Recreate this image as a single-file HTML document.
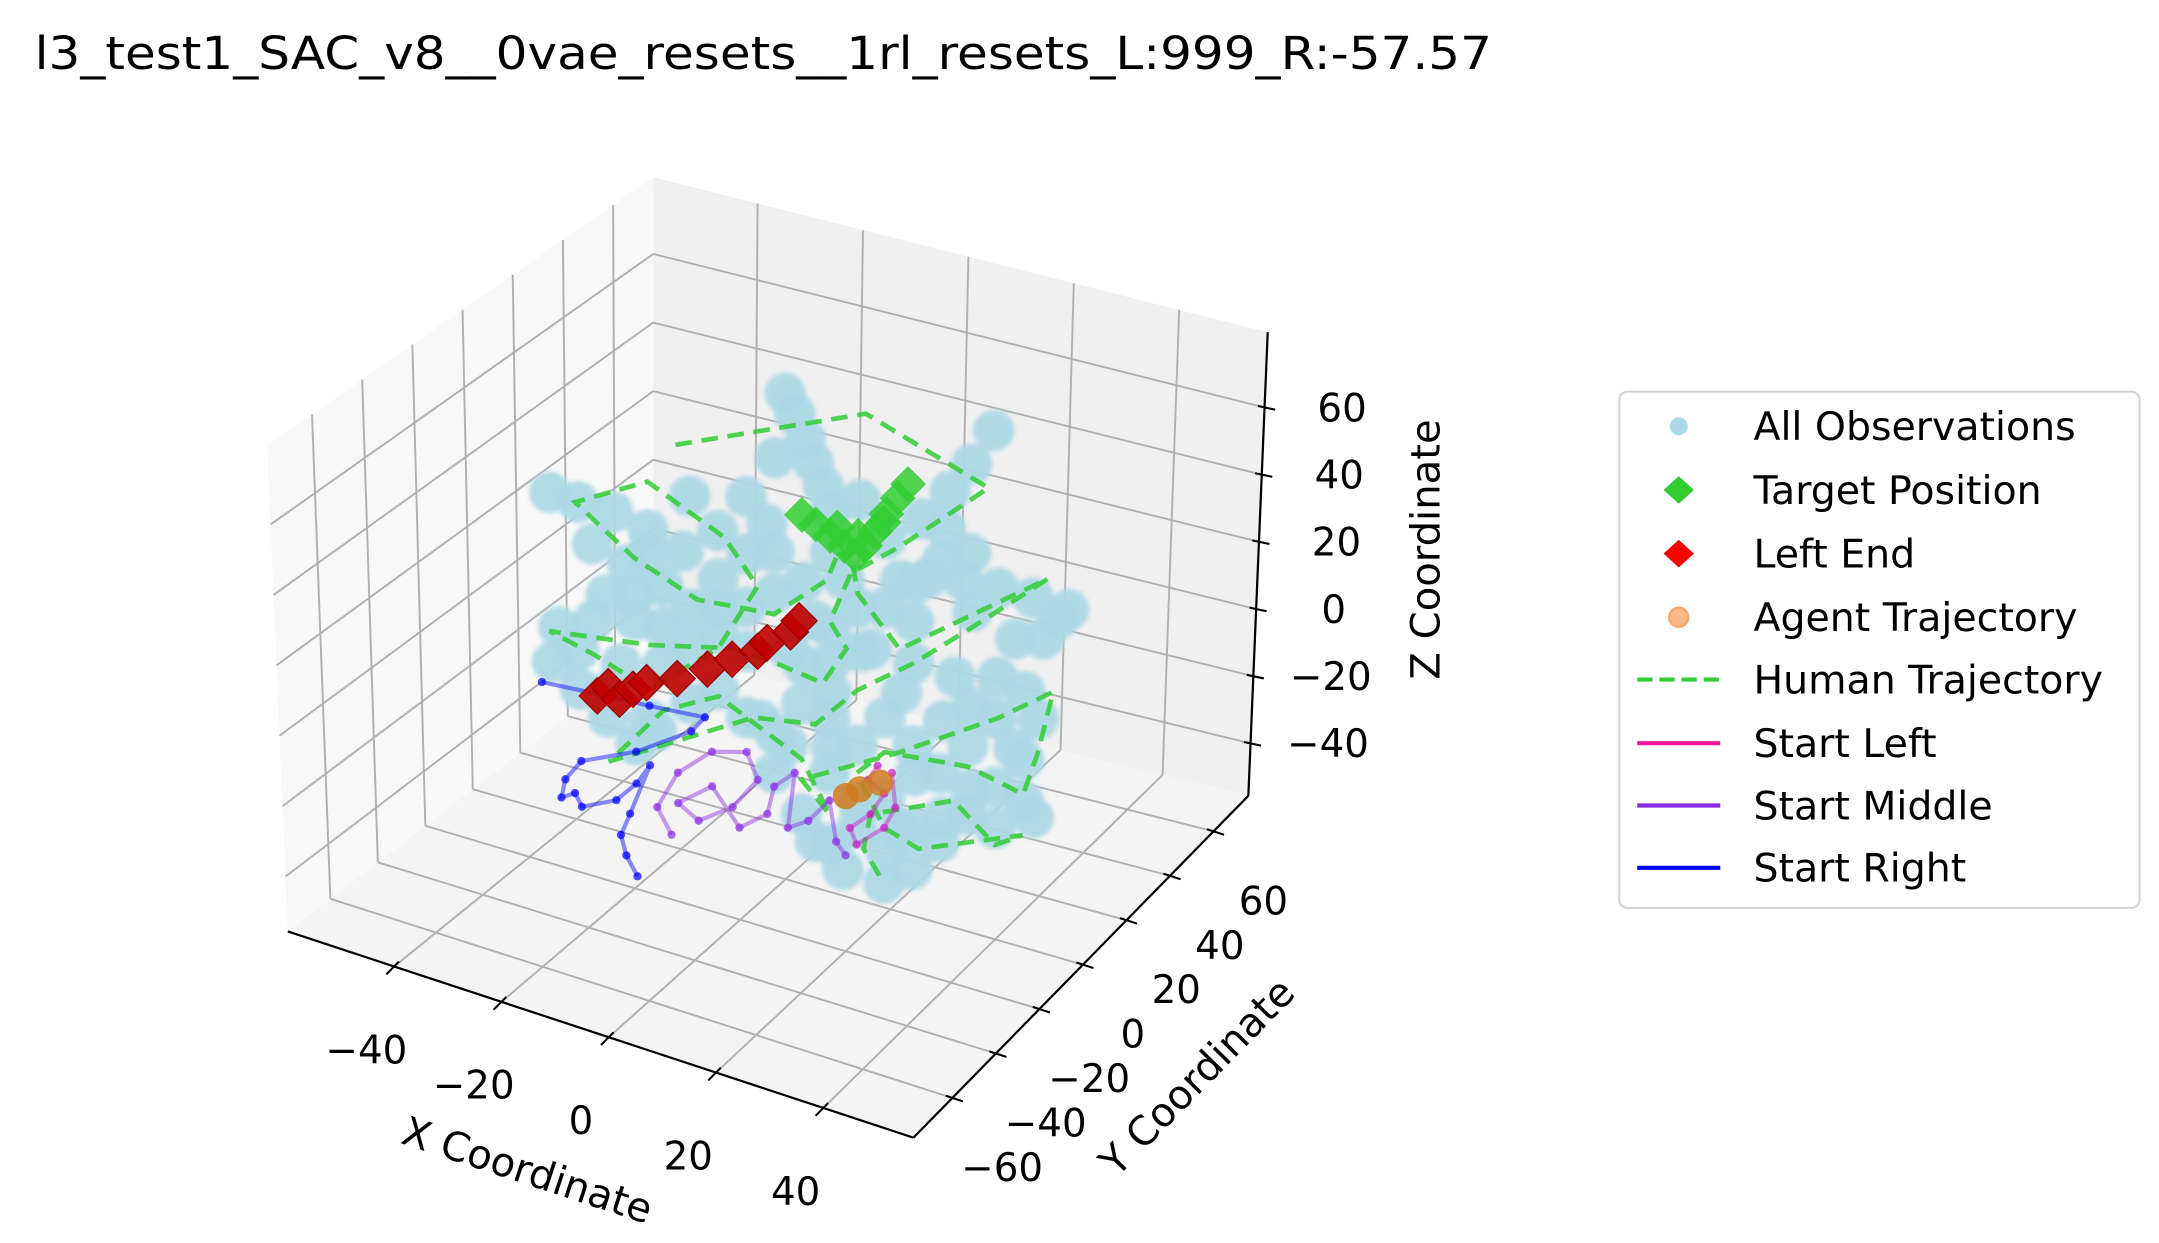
<!DOCTYPE html>
<html><head><meta charset="utf-8"><style>
html,body{margin:0;padding:0;background:#fff;}
svg{display:block;}
text{font-family:"DejaVu Sans","Liberation Sans",sans-serif;fill:#000;}
</style></head><body>
<svg id="chart" width="2159" height="1243" viewBox="0 0 1560 898.1" preserveAspectRatio="none" xmlns="http://www.w3.org/2000/svg">
<defs><filter id="soft" x="-20%" y="-20%" width="140%" height="140%"><feGaussianBlur stdDeviation="1.6"/></filter></defs>
<text x="25" y="50" font-size="33" textLength="1053" lengthAdjust="spacingAndGlyphs">l3_test1_SAC_v8__0vae_resets__1rl_resets_L:999_R:-57.57</text>
<g id="panes"></g>
<g id="grid"></g>
<g id="axes"></g>
<g id="obs" filter="url(#soft)"></g>
<g id="data"></g>
<text x="0" y="0" font-size="29" text-anchor="middle" transform="translate(378,855) rotate(18.2)">X Coordinate</text>
<text x="0" y="0" font-size="29" text-anchor="middle" transform="translate(872,785) rotate(-45.5)">Y Coordinate</text>
<text x="0" y="0" font-size="29" text-anchor="middle" transform="translate(1040,397) rotate(-90)">Z Coordinate</text>
<g>
<rect x="1170" y="283" width="376" height="373" rx="6" fill="#fff" stroke="#d3d3d3" stroke-width="1.5"/>
<g><circle cx="1213" cy="308" r="6.5" fill="#add8e6"/><text x="1267" y="318" font-size="28.5">All Observations</text></g>
<g><polygon points="1213,344 1224,354 1213,364 1202,354" fill="#32cd32"/><text x="1267" y="364" font-size="28.5">Target Position</text></g>
<g><polygon points="1213,390 1224,400 1213,410 1202,400" fill="#ff0000"/><text x="1267" y="410" font-size="28.5">Left End</text></g>
<g><circle cx="1213" cy="446" r="7" fill="#f8b888" stroke="#f5a66a" stroke-width="1.5"/><text x="1267" y="456" font-size="28.5">Agent Trajectory</text></g>
<g><line x1="1183" y1="491" x2="1243" y2="491" stroke="#32cd32" stroke-width="3" stroke-dasharray="11 5"/><text x="1267" y="501" font-size="28.5">Human Trajectory</text></g>
<g><line x1="1183" y1="537" x2="1243" y2="537" stroke="#ff1493" stroke-width="3"/><text x="1267" y="547" font-size="28.5">Start Left</text></g>
<g><line x1="1183" y1="582" x2="1243" y2="582" stroke="#8a2be2" stroke-width="3"/><text x="1267" y="592" font-size="28.5">Start Middle</text></g>
<g><line x1="1183" y1="627" x2="1243" y2="627" stroke="#0000ff" stroke-width="3"/><text x="1267" y="637" font-size="28.5">Start Right</text></g>
</g>
</svg>
<script>
// ---- axis limits & ticks ----
const xLimits = [-59.8, 56.8];
const yLimits = [-77.9, 76.0];
const zLimits = [-55.6, 82.4];
const xTicks = [-40, -20, 0, 20, 40];
const yTicks = [-60, -40, -20, 0, 20, 40, 60];
const zTicks = [-40, -20, 0, 20, 40, 60];
const tickLabel = v => (v < 0 ? '\u2212' + Math.abs(v) : String(v));

// ---- All observations (y plane = 0) ----
const obsDepth = 0;
const obsX = [-0.1,1.7,3.6,5.1,7.0,8.3, 38.4,34.4,30.5,25.3,18.7, -44.1,-38.9,-32.3,-25.8,-19.2,-12.7, -36.2,-29.7,-23.1, 52.8,46.2,39.7,33.1,26.6,21.4,34.4,29.2, -7.4,-2.2,-12.7,-17.9,-23.1,-28.4,-36.2,-42.8, -44.1,-38.9,-33.6,-28.4,-24.5,-17.9,-12.7, 8.3,16.1,24.0,31.8,39.7,44.9,47.5,44.9,39.7,34.4,29.2,24.0,18.7,10.9,5.6,3.0,8.3,13.5,18.7,24.0,29.2,34.4,39.7,8.3,0.4,-2.2,3.0,39.7,44.9,24.0,13.5,18.7,-7.4, 8.3,10.9,13.5,5.6,0.4,8.3, -7.4,-3.5,-12.7,-17.9,-2.2,18.7,24.0,
 -39.1,-31.1,-23.2,-7.3,-2.0,8.6,13.9,21.8,29.7,35.0,43.0,29.7,21.8,13.9,35.0,24.4,19.1,8.6,-4.7,-7.3,3.3,13.9,-28.5,-17.9,-33.8,-12.6,48.2,43.0,35.0,50.9,-33.8,-25.8,8.6,46.9,3.3,24.4,29.7,-25.8,-2.0];
const obsZ = [85.2,80.0,73.7,67.5,61.6,54.9, 92.0,80.3,70.7,60.3,51.5, 36.8,36.4,36.4,34.1,30.9,25.8, 25.5,22.4,19.2, 46.3,46.7,46.6,45.8,43.7,40.6,54.3,50.0, 20.0,26.3,9.8,3.4,7.2,6.9,3.5,-1.4, -12.0,-17.6,-23.4,-29.1,-23.4,-12.6,-6.2, 10.9,18.3,17.7,17.2,20.6,18.9,12.0,-1.1,-11.4,-21.7,-32.0,-42.3,-48.5,-48.0,-42.2,-35.4,-21.1,-10.8,-0.5,-6.3,-12.0,-1.7,8.6,-5.1,-16.5,-25.7,-3.4,-23.4,-13.1,-30.3,-34.8,-24.5,-12.0, 42.9,36.0,29.2,21.8,11.5,20.9, 52.0,45.8,39.8,47.4,38.3,31.5,29.7,
 -6.4,-7.0,-3.5,7.4,-14.3,2.3,16.6,8.0,3.5,9.8,1.3,-24.5,-32.0,-27.4,-14.2,-14.8,-39.1,-41.7,-11.5,35.4,32.0,60.6,14.2,14.8,11.8,17.1,35.6,33.3,37.8,42.7,-16.2,-20.7,-13.7,-17.0,8.0,41.2,59.5,27.3,65.7];

// ---- Target positions ----
const targetX = [3.0,5.6,8.3,10.9,13.0,14.8,16.6,18.7,20.8,22.7,13.5,9.6,18.2];
const targetZ = [51.4,49.8,47.7,46.0,44.2,47.7,52.6,58.7,64.3,69.2,50.0,50.7,56.0];

// ---- Left end ----
const leftEndX = [-35.7,-33.6,-31.5,-28.9,-26.3,-20.5,-14.8,-10.1,-5.3,-3.5,0.9,2.5];
const leftEndZ = [-18.2,-14.6,-17.3,-13.3,-10.2,-6.5,-1.2,3.7,8.1,11.4,16.5,20.4];

// ---- Agent trajectory ----
const agentX = [11.4,14.0,17.9];
const agentZ = [-26.5,-23.4,-19.7];

// ---- Human trajectory ----
const humanX = [-20.5,14.8,37.6,21.4,12.2,8.3,11.4,7.0,-2.2,-10.1,-25.8,-44.6,-36.2,-25.8,-12.7,-5.3,-11.4,-25.8,-39.4,-28.4,-16.6,-2.2,7.7,11.4,13.5,21.4,48.8,34.4,24.0,13.5,5.6,-6.1,-23.1,-33.6,-23.1,-12.7,3.0,8.3,3.0,21.4,39.7,50.2,47.5,44.9,34.4,18.7,13.5,18.7,25.3,44.9,39.7,31.8,16.1,14.8,18.7];
const humanZ = [61.1,86.1,74.9,50.6,38.6,22.9,16.3,4.4,6.3,6.9,0.9,-3.4,-6.5,-11.9,5.8,26.9,38.3,48.1,36.1,24.9,18.1,20.3,34.6,50.3,33.2,20.6,53.4,32.3,17.7,5.2,-8.2,-11.4,-26.8,-36.2,-16.8,-8.2,-19.4,-33.1,-25.4,-9.4,8.6,21.1,2.0,-11.1,-7.7,-10.5,-18.8,-32.5,-35.7,-23.1,-28.2,-18.8,-29.7,-40.3,-48.5];

// ---- Start right (blue) ----
const rightX = [-46.2,-33.6,-25.8,-15.3,-17.9,-28.4,-38.9,-42.0,-42.8,-40.2,-38.9,-32.3,-28.4,-25.8,-29.7,-31.5,-30.5,-28.4];
const rightZ = [-18.8,-17.4,-16.7,-15.4,-20.6,-31.1,-38.4,-45.0,-50.6,-48.2,-51.6,-46.8,-40.3,-33.9,-49.6,-56.5,-62.0,-67.1];

// ---- Start middle (purple) ----
const middleX = [-21.8,-24.5,-20.5,-14.0,-7.4,-5.3,-10.1,-16.6,-20.5,-14.0,-8.8,-3.5,-2.2,1.7,0.4,4.3,8.3,9.6,11.4];
const middleZ = [-52.2,-45.4,-33.7,-24.8,-22.0,-29.1,-39.1,-45.9,-42.5,-34.8,-44.5,-38.2,-29.7,-24.0,-40.5,-36.8,-29.1,-40.5,-43.7];

// ---- Start left (magenta) ----
const leftX = [17.4,15.6,18.7,16.1,12.2,13.5,18.7,20.8,20.1];
const leftZ = [-15.0,-19.9,-22.5,-29.7,-35.4,-39.6,-32.5,-25.7,-15.9];

const NS = 'http://www.w3.org/2000/svg';
const C = {
  '000':[208,673],'100':[660,822],'110':[902,575],'010':[472,470],
  '001':[193,322],'101':[660,474],'111':[916,240],'011':[472,128]
};
function lerp(a,b,t){return [a[0]+(b[0]-a[0])*t, a[1]+(b[1]-a[1])*t];}
function proj(x,y,z){
  const fx=(x-xLimits[0])/(xLimits[1]-xLimits[0]);
  const fy=(y-yLimits[0])/(yLimits[1]-yLimits[0]);
  const fz=(z-zLimits[0])/(zLimits[1]-zLimits[0]);
  const b0=lerp(lerp(C['000'],C['100'],fx),lerp(C['010'],C['110'],fx),fy);
  const b1=lerp(lerp(C['001'],C['101'],fx),lerp(C['011'],C['111'],fx),fy);
  return lerp(b0,b1,fz);
}
function mk(tag,attrs,parent){const e=document.createElementNS(NS,tag);for(const k in attrs)e.setAttribute(k,attrs[k]);parent.appendChild(e);return e;}
const panes=document.getElementById('panes'), grid=document.getElementById('grid'), axes=document.getElementById('axes'), data=document.getElementById('data'), obsG=document.getElementById('obs');
const [X0,X1]=xLimits,[Y0,Y1]=yLimits,[Z0,Z1]=zLimits;
function poly(pts){return pts.map(p=>p[0].toFixed(1)+','+p[1].toFixed(1)).join(' ');}

let e;
e=mk('polygon',{points:poly([proj(X0,Y0,Z0),proj(X0,Y1,Z0),proj(X0,Y1,Z1),proj(X0,Y0,Z1)]),fill:'#f8f8f8'},panes);


e=mk('polygon',{points:poly([proj(X0,Y1,Z0),proj(X1,Y1,Z0),proj(X1,Y1,Z1),proj(X0,Y1,Z1)]),fill:'#f0f0f0'},panes);


e=mk('polygon',{points:poly([proj(X0,Y0,Z0),proj(X1,Y0,Z0),proj(X1,Y1,Z0),proj(X0,Y1,Z0)]),fill:'#f4f4f4'},panes);



function gl(a,b){const p=proj(...a),q=proj(...b);return mk('line',{x1:p[0],y1:p[1],x2:q[0],y2:q[1],stroke:'#b0b0b0','stroke-width':1.4},grid);}
xTicks.forEach(v=>{
  e=gl([v,Y0,Z0],[v,Y1,Z0]);  
  e=gl([v,Y1,Z0],[v,Y1,Z1]);  
});
yTicks.forEach(v=>{
  e=gl([X0,v,Z0],[X1,v,Z0]);  
  e=gl([X0,v,Z0],[X0,v,Z1]);  
});
zTicks.forEach(v=>{
  e=gl([X0,Y0,v],[X0,Y1,v]);  
  e=gl([X0,Y1,v],[X1,Y1,v]);  
});

function axLine(a,b,name){const p=proj(...a),q=proj(...b);const l=mk('line',{x1:p[0],y1:p[1],x2:q[0],y2:q[1],stroke:'#000','stroke-width':1.6},axes);}
axLine([X0,Y0,Z0],[X1,Y0,Z0],'x-axis-line');
axLine([X1,Y0,Z0],[X1,Y1,Z0],'y-axis-line');
axLine([X1,Y1,Z0],[X1,Y1,Z1],'z-axis-line');

function tick(p,dir,lab,off,name){
  mk('line',{x1:p[0]-dir[0]*5,y1:p[1]-dir[1]*5,x2:p[0]+dir[0]*8,y2:p[1]+dir[1]*8,stroke:'#000','stroke-width':1.5},axes);
  const t=mk('text',{x:p[0]+off[0],y:p[1]+off[1],'font-size':28,'text-anchor':'middle'},axes);
  t.textContent=lab;
  
  
}
xTicks.forEach(v=>tick(proj(v,Y0,Z0),[-0.7,0.71],tickLabel(v),[-20,70],'x-tick-label'));
yTicks.forEach(v=>tick(proj(X1,v,Z0),[0.95,0.31],tickLabel(v),[36,60],'y-tick-label'));
zTicks.forEach(v=>tick(proj(X1,Y1,v),[0.95,0.2],tickLabel(v),[56,10],'z-tick-label'));

// observations
obsX.forEach((x,i)=>{const p=proj(x,obsDepth,obsZ[i]);
  const c=mk('circle',{cx:p[0],cy:p[1],r:15,fill:'#add8e6','fill-opacity':0.95},obsG);
  
  
});
function pathOf(xs,zs){return xs.map((x,i)=>{const p=proj(x,0,zs[i]);return (i?'L':'M')+p[0].toFixed(1)+' '+p[1].toFixed(1);}).join(' ');}
e=mk('path',{d:pathOf(humanX,humanZ),fill:'none',stroke:'#32cd32','stroke-width':3.4,'stroke-dasharray':'12 7','stroke-opacity':0.85},data);


[[rightX,rightZ,'#0000ff','start-right-trajectory'],[middleX,middleZ,'#8a2be2','start-middle-trajectory'],[leftX,leftZ,'#c81ec8','start-left-trajectory']].forEach(s=>{
  const l=mk('path',{d:pathOf(s[0],s[1]),fill:'none',stroke:s[2],'stroke-width':3,'stroke-opacity':0.45},data);
  
  
  s[0].forEach((x,i)=>{const p=proj(x,0,s[1][i]);mk('circle',{cx:p[0],cy:p[1],r:3,fill:s[2],'fill-opacity':0.7},data);});
});
function diamond(p,r){return poly([[p[0],p[1]-r],[p[0]+r,p[1]],[p[0],p[1]+r],[p[0]-r,p[1]]]);}
targetX.forEach((x,i)=>{const p=proj(x,0,targetZ[i]);
  const d=mk('polygon',{points:diamond(p,13),fill:'#32cd32','fill-opacity':0.85},data);
  
  
});
leftEndX.forEach((x,i)=>{const p=proj(x,0,leftEndZ[i]);
  const d=mk('polygon',{points:diamond(p,13),fill:'#c00000',stroke:'#a00000','stroke-width':1,'fill-opacity':0.9},data);
  
  
});
agentX.forEach((x,i)=>{const p=proj(x,0,agentZ[i]);
  const c=mk('circle',{cx:p[0],cy:p[1],r:9.5,fill:'#d07a20','fill-opacity':0.85},data);
  
  
});
</script>
</body></html>
